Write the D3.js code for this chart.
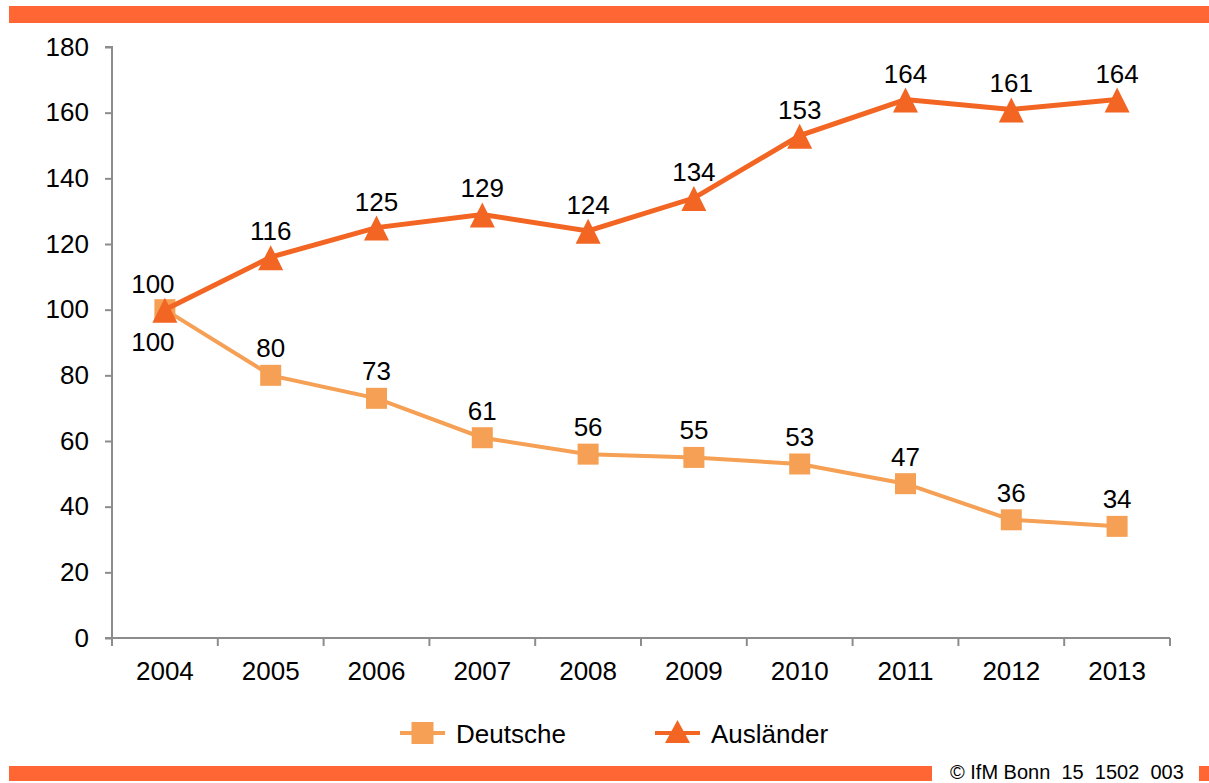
<!DOCTYPE html>
<html>
<head>
<meta charset="utf-8">
<script src="https://cdn.jsdelivr.net/npm/d3@7"></script>
<style>
  body { margin: 0; background: #fff; }
  svg { display: block; font-family: "Liberation Sans", Arial, sans-serif; }
</style>
</head>
<body>
<svg id="chart" width="1209" height="783"></svg>
<script>
const years = ['2004', '2005', '2006', '2007', '2008', '2009', '2010', '2011', '2012', '2013'];
const deutsche = [100, 80, 73, 61, 56, 55, 53, 47, 36, 34];
const auslaender = [100, 116, 125, 129, 124, 134, 153, 164, 161, 164];
const yTicks = [0, 20, 40, 60, 80, 100, 120, 140, 160, 180];

const cAus = '#f26522';
const cDeu = '#f5a054';
const cBar = '#ff6633';
const cAxis = '#8c8c8c';
const fontFam = 'Liberation Sans, Arial, sans-serif';

const svg = d3.select('#chart');

// orange bars top and bottom
svg.append('rect').attr('x', 9).attr('y', 6).attr('width', 1200).attr('height', 17).attr('fill', cBar);
svg.append('rect').attr('x', 9).attr('y', 766).attr('width', 923).attr('height', 15).attr('fill', cBar);
svg.append('rect').attr('x', 1199).attr('y', 766).attr('width', 10).attr('height', 15).attr('fill', cBar);
svg.append('text')
  .attr('x', 950).attr('y', 779)
  .attr('font-size', 20).attr('fill', '#000')
  .attr('xml:space', 'preserve')
  .text('© IfM Bonn  15  1502  003');

const x = d3.scaleBand().domain(years).range([112, 1170]);
const y = d3.scaleLinear().domain([0, 180]).range([638, 47]);

// y axis
const yAxis = svg.append('g')
  .attr('transform', 'translate(112,0)')
  .call(d3.axisLeft(y).tickValues(yTicks).tickSize(7).tickPadding(16));
yAxis.select('.domain').attr('stroke', cAxis).attr('stroke-width', 2).attr('d', 'M-7,47H0V638H-7');
yAxis.selectAll('.tick line').attr('stroke', cAxis).attr('stroke-width', 2);
yAxis.selectAll('.tick text').attr('font-size', 26).attr('fill', '#000').attr('font-family', fontFam);

// x axis (ticks at band boundaries)
const xAxisG = svg.append('g').attr('transform', 'translate(0,638)');
xAxisG.append('line')
  .attr('x1', 112).attr('x2', 1170)
  .attr('stroke', cAxis).attr('stroke-width', 2);
const bounds = years.map(d => x(d)).concat([x(years[years.length - 1]) + x.bandwidth()]);
xAxisG.selectAll('line.tk').data(bounds).enter().append('line')
  .attr('class', 'tk')
  .attr('x1', d => d).attr('x2', d => d)
  .attr('y1', 0).attr('y2', 8)
  .attr('stroke', cAxis).attr('stroke-width', 2);
xAxisG.selectAll('text').data(years).enter().append('text')
  .attr('x', d => x(d) + x.bandwidth() / 2)
  .attr('y', 42)
  .attr('text-anchor', 'middle')
  .attr('font-size', 26)
  .text(d => d);

const cx = d => x(d) + x.bandwidth() / 2;
const line = d3.line().x((d, i) => cx(years[i])).y(d => y(d));

// Deutsche line
svg.append('path').datum(deutsche)
  .attr('d', line).attr('fill', 'none')
  .attr('stroke', cDeu).attr('stroke-width', 4);
svg.selectAll('rect.deu').data(deutsche).enter().append('rect')
  .attr('class', 'deu')
  .attr('x', (d, i) => cx(years[i]) - 10.5)
  .attr('y', d => y(d) - 10.5)
  .attr('width', 21).attr('height', 21)
  .attr('fill', cDeu);

// Ausländer line
const tri = 'M0,-12L12.5,13L-12.5,13Z';
svg.append('path').datum(auslaender)
  .attr('d', line).attr('fill', 'none')
  .attr('stroke', cAus).attr('stroke-width', 5);
svg.selectAll('path.aus').data(auslaender).enter().append('path')
  .attr('class', 'aus')
  .attr('d', tri)
  .attr('transform', (d, i) => `translate(${cx(years[i])},${y(d)})`)
  .attr('fill', cAus);

// value labels
svg.selectAll('text.lab-aus').data(auslaender).enter().append('text')
  .attr('class', 'lab-aus')
  .attr('x', (d, i) => cx(years[i]) - (i === 0 ? 12 : 0))
  .attr('y', d => y(d) - 17)
  .attr('text-anchor', 'middle')
  .attr('font-size', 26)
  .text(d => d);
svg.selectAll('text.lab-deu').data(deutsche).enter().append('text')
  .attr('class', 'lab-deu')
  .attr('x', (d, i) => cx(years[i]) - (i === 0 ? 12 : 0))
  .attr('y', (d, i) => i === 0 ? y(d) + 41 : y(d) - 18)
  .attr('text-anchor', 'middle')
  .attr('font-size', 26)
  .text(d => d);

// legend
const legend = [
  { name: 'Deutsche', color: cDeu, x: 400, marker: 'square' },
  { name: 'Ausländer', color: cAus, x: 655, marker: 'tri' }
];
const lg = svg.selectAll('g.legend').data(legend).enter().append('g')
  .attr('class', 'legend')
  .attr('transform', d => `translate(${d.x},733)`);
lg.append('line').attr('x1', 0).attr('x2', 45)
  .attr('stroke', d => d.color).attr('stroke-width', 4);
lg.each(function (d) {
  const g = d3.select(this);
  if (d.marker === 'square') {
    g.append('rect').attr('x', 11.5).attr('y', -11).attr('width', 22).attr('height', 22).attr('fill', d.color);
  } else {
    g.append('path').attr('d', 'M22.5,-13L35,10L10,10Z').attr('fill', d.color);
  }
});
lg.append('text').attr('x', 56).attr('y', 10)
  .attr('font-size', 26)
  .text(d => d.name);
</script>
</body>
</html>
